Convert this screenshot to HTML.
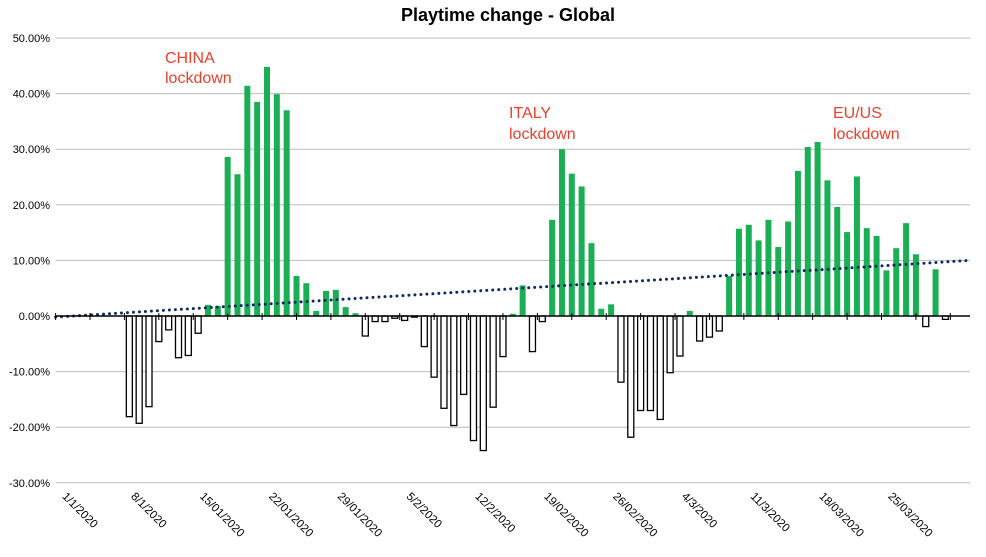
<!DOCTYPE html>
<html><head><meta charset="utf-8"><style>
body{margin:0;background:#fff;font-family:"Liberation Sans",Arial,sans-serif}
svg{display:block}
</style></head><body>
<svg id="chart" width="986" height="557" viewBox="0 0 986 557" xmlns="http://www.w3.org/2000/svg">
<text x="508" y="21" text-anchor="middle" font-size="18" font-weight="bold" fill="#000">Playtime change - Global</text>
<g id="grid"></g><g id="bars"></g><g id="trend"></g><g id="axis"></g>
<g fill="#e8412c" font-size="16">
<text x="165" y="63">CHINA</text>
<text x="165" y="83">lockdown</text>
<text x="509" y="118">ITALY</text>
<text x="509" y="139">lockdown</text>
<text x="833" y="118">EU/US</text>
<text x="833" y="139">lockdown</text>
</g>
</svg>
<script>
const values = [0,0,0,0,0,0,0,-18.1,-19.3,-16.3,-4.6,-2.5,-7.5,-7.1,-3.1,2.0,1.8,28.6,25.5,41.4,38.5,44.8,39.9,37.0,7.2,5.9,0.9,4.5,4.7,1.6,0.5,-3.6,-1.0,-1.0,-0.4,-0.8,-0.2,-5.5,-11.0,-16.6,-19.7,-14.1,-22.4,-24.2,-16.4,-7.3,0.4,5.5,-6.4,-1.0,17.3,30.0,25.6,23.3,13.1,1.3,2.1,-11.9,-21.8,-17.0,-17.0,-18.6,-10.2,-7.2,0.9,-4.5,-3.8,-2.7,7.2,15.7,16.4,13.6,17.3,12.4,17.0,26.1,30.4,31.3,24.4,19.6,15.1,25.1,15.8,14.4,8.2,12.2,16.7,11.1,-1.9,8.4,-0.6,0,0];
const yTicks = [50,40,30,20,10,0,-10,-20,-30];
const xLabels = ["1/1/2020","8/1/2020","15/01/2020","22/01/2020","29/01/2020","5/2/2020","12/2/2020","19/02/2020","26/02/2020","4/3/2020","11/3/2020","18/03/2020","25/03/2020"];
const trendStart = -0.2, trendEnd = 10.0;

const NS="http://www.w3.org/2000/svg";
const X0=55.6, X1=970, Y0=316, PPU=5.56;
const n=values.length, step=(X1-X0)/n;
const y=v=>Y0 - v*PPU;
const xc=i=>X0+(i+0.5)*step;
function mk(tag,parent,attrs){const e=document.createElementNS(NS,tag);for(const k in attrs)e.setAttribute(k,attrs[k]);parent.appendChild(e);return e;}
const grid=document.getElementById('grid'), bars=document.getElementById('bars'), trend=document.getElementById('trend'), axis=document.getElementById('axis');
yTicks.forEach(t=>{
  if(t!==0){const l=mk('line',grid,{x1:X0,x2:X1,y1:y(t),y2:y(t),stroke:'#bbb','stroke-width':1});
  
  }
  const tx=mk('text',grid,{x:50,y:y(t)+4,'text-anchor':'end','font-size':11,fill:'#000'});
  
  
  tx.textContent=t.toFixed(2)+'%';
});
values.forEach((v,i)=>{
  if(v===0)return;
  const w=6, top=Math.min(y(v),Y0), h=Math.abs(y(v)-Y0);
  let r;
  if(v>0) r=mk('rect',bars,{x:xc(i)-w/2,y:top,width:w,height:h,fill:'#1aaf54'});
  else r=mk('rect',bars,{x:xc(i)-w/2,y:top,width:w,height:h,fill:'#fff',stroke:'#000','stroke-width':1.3});
  
  
});
const tl=mk('line',trend,{x1:X0,y1:y(trendStart),x2:X1,y2:y(trendEnd),stroke:'#0d2a5c','stroke-width':3,'stroke-dasharray':'0 6','stroke-linecap':'round'});


const ax=mk('line',axis,{x1:X0,x2:X1,y1:Y0,y2:Y0,stroke:'#000','stroke-width':1.5});


for(let k=0;k*3.5<=n;k++){
  const tx=X0+k*3.5*step;
  const t=mk('line',axis,{x1:tx,x2:tx,y1:Y0-3,y2:Y0+4,stroke:'#000','stroke-width':1});
  
  
}
xLabels.forEach((s,k)=>{
  const tx=X0+k*7*step+6, ty=497;
  const t=mk('text',axis,{x:tx,y:ty,'font-size':11.5,fill:'#000',transform:`rotate(45 ${tx} ${ty})`});
  
  
  t.textContent=s;
});
</script>
</body></html>
